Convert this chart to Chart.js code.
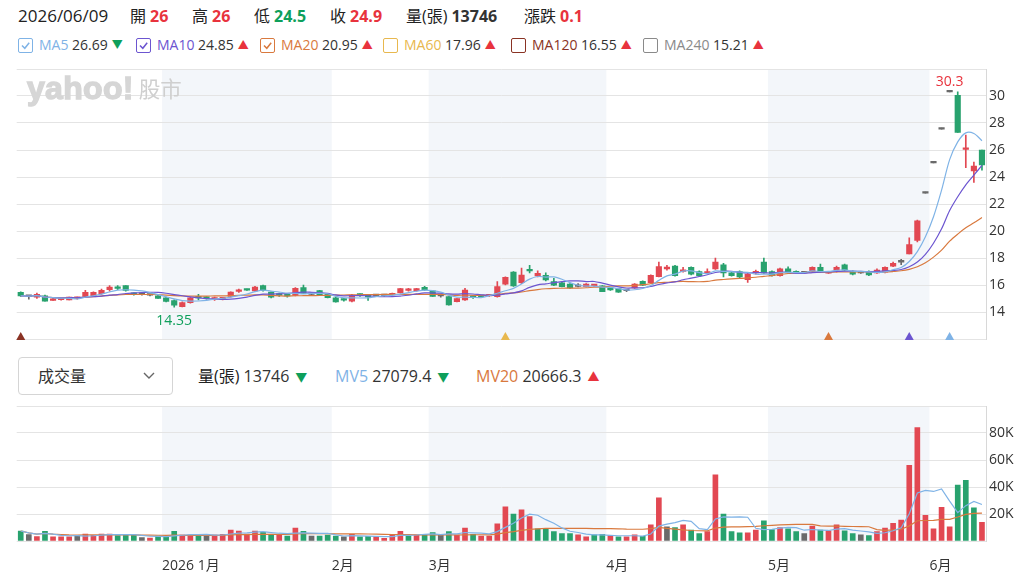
<!DOCTYPE html>
<html>
<head>
<meta charset="utf-8">
<script src="https://cdn.jsdelivr.net/npm/chart.js@4.4.1/dist/chart.umd.min.js"></script>
<style>
html,body{margin:0;padding:0;background:#fff}
body{width:1022px;height:579px;position:relative;overflow:hidden;font-family:"Open Sans","Noto Sans CJK TC",sans-serif;color:#333}
.a{position:absolute;white-space:nowrap}
.hdr{top:5px;height:22px;line-height:22px;font-size:16px;color:#222}
.hdr b{font-weight:700;margin-left:4px}
.up{color:#e8333d}.dn{color:#0e9f5b}.eq{color:#333}
.leg{top:36px;height:18px;line-height:18px;font-size:14px;display:flex;align-items:center;color:#333}
.cb{width:15px;height:15px;box-sizing:border-box;border:1.5px solid;border-radius:2px;margin-right:6px;display:flex;align-items:center;justify-content:center}
.arr{font-size:11px;margin-left:4px}
.vh{top:366px;height:20px;line-height:20px;font-size:16px;color:#222}
#sel{left:18px;top:357px;width:155px;height:38px;box-sizing:border-box;border:1px solid #d5d5d5;border-radius:4px}
#sel span{position:absolute;left:19px;top:8px;line-height:20px;font-size:16px;color:#333}
#sel svg{position:absolute;left:124px;top:14px}
#wm{left:27px;top:70px;pointer-events:none}
canvas{position:absolute;left:0}
</style>
</head>
<body>
<canvas id="pc" width="1022" height="285" style="top:61px"></canvas>
<canvas id="vc" width="1022" height="179" style="top:400px"></canvas>

<div id="hdr"></div>
<div id="leg"></div>

<div id="wm" class="a"><span style="font:bold 32px 'Liberation Sans';letter-spacing:0.3px;color:#d6d6d6;-webkit-text-stroke:1.4px #d6d6d6">yahoo!</span><span style="font:400 21.5px 'Noto Sans CJK TC';color:#cfcfcf;margin-left:5px;position:relative;top:-2px">股市</span></div>

<div id="sel" class="a"><span>成交量</span><svg width="12" height="8" viewBox="0 0 12 8"><polyline points="1,1 6,6 11,1" fill="none" stroke="#666" stroke-width="1.4"/></svg></div>
<div id="vhdr"></div>

<script>
// ---------- DATA ----------
const monthNames = ['12月','2026 1月','2月','3月','4月','5月','6月'];
const monthDays  = [18, 21, 12, 22, 20, 20, 7];

const opens = [
  15.45,15.15,15.1,15.2,14.85,14.92,14.9,15.0,15.15,15.2,15.35,15.65,15.8,15.95,15.35,15.3,15.25,15.2,
  15.05,14.85,14.4,14.7,15.1,15.05,14.95,14.97,15.15,15.52,15.65,15.56,15.95,15.48,15.3,15.22,15.23,15.8,15.3,15.58,15.3,
  15.05,14.9,14.8,15.28,15.15,15.2,15.2,15.27,15.43,15.6,15.58,15.83,
  15.56,15.2,15.14,14.77,14.9,15.12,15.15,15.19,15.14,16.07,16.96,16.17,17.1,16.67,16.72,16.25,16.17,16.07,15.9,15.88,15.95,15.93,
  15.78,15.73,15.58,15.78,16.27,16.17,16.62,17.2,17.4,17.0,17.3,17.0,16.88,17.2,17.5,16.9,17.0,16.4,16.9,17.7,
  17.0,16.7,17.2,17.0,16.9,17.0,17.3,16.88,17.1,17.5,17.0,16.9,17.0,16.9,16.95,17.4,17.7,18.3,19.3,22.8,
  25.05,27.55,30.3,30.05,26.05,24.45,26
];
const highs = [
  15.5,15.15,15.4,15.25,15.05,15.05,15.1,15.1,15.6,15.5,15.7,15.95,15.95,15.95,15.4,15.35,15.3,15.25,
  15.1,14.9,14.75,15.1,15.3,15.15,15.1,15.05,15.5,15.7,15.7,15.9,16.0,15.5,15.4,15.3,15.8,16.0,15.35,15.6,15.35,
  15.1,15.0,15.3,15.35,15.15,15.22,15.25,15.4,15.75,15.75,15.75,15.9,
  15.6,15.3,15.15,15.0,15.75,15.2,15.2,15.25,16.25,16.6,17.0,17.25,17.45,17.05,16.9,16.5,16.2,16.1,16.1,16.1,16.05,15.95,
  15.8,15.75,15.65,16.1,16.3,16.75,17.7,17.45,17.45,17.3,17.35,17.05,17.2,18.0,17.6,16.95,17.05,16.85,17.1,18.0,
  17.05,17.25,17.35,17.05,16.95,17.35,17.55,16.95,17.4,17.55,17.05,16.95,17.05,17.2,17.35,17.7,17.9,19.5,20.8,22.8,
  25.05,27.55,30.3,30.3,27.1,25.1,26
];
const lows = [
  15.15,14.95,15.0,14.8,14.85,14.88,14.9,14.95,15.1,15.2,15.3,15.55,15.65,15.55,15.25,15.25,15.2,15.0,
  14.75,14.35,14.38,14.65,14.9,14.95,14.85,14.9,15.1,15.45,15.6,15.5,15.55,15.05,15.15,15.1,15.2,15.35,15.25,15.25,15.05,
  14.72,14.8,14.75,15.15,14.85,15.15,15.15,15.25,15.4,15.55,15.55,15.6,
  15.15,15.1,14.5,14.75,14.85,15.0,15.1,15.15,15.1,16.0,15.9,16.1,16.9,16.6,16.3,15.95,15.85,15.75,15.85,15.85,15.9,15.5,
  15.6,15.45,15.5,15.75,15.95,16.15,16.6,17.1,16.65,16.95,16.75,16.65,16.85,17.15,16.6,16.65,16.55,16.2,16.8,16.85,
  16.65,16.65,16.85,16.85,16.85,16.95,16.95,16.85,16.95,17.05,16.75,16.85,16.7,16.85,16.9,17.35,17.5,18.3,19.2,22.8,
  25.05,27.55,30.3,27.3,24.7,23.6,24.5
];
const closes = [
  15.2,15.15,15.3,14.8,14.9,14.97,15.1,15.05,15.45,15.45,15.6,15.85,15.75,15.6,15.3,15.3,15.25,15.0,
  14.78,14.5,14.7,15.05,15.05,15.0,15.0,15.0,15.48,15.58,15.62,15.85,15.58,15.1,15.25,15.2,15.75,15.38,15.3,15.28,15.06,
  14.75,14.88,15.25,15.25,15.12,15.2,15.2,15.38,15.73,15.65,15.73,15.63,
  15.16,15.2,14.52,14.99,15.63,15.08,15.13,15.22,15.88,16.57,15.93,16.74,17.05,16.86,16.37,15.98,15.88,15.78,15.9,16.07,15.98,15.51,
  15.63,15.46,15.58,16.07,15.98,16.72,17.36,17.26,16.7,17.1,16.8,16.7,16.92,17.7,16.9,16.7,16.6,16.8,17.0,16.9,
  16.7,17.2,16.9,16.9,16.9,17.3,17.0,16.92,17.3,17.1,16.8,16.9,16.75,17.1,17.3,17.6,17.7,19.0,20.75,22.8,
  25.05,27.55,30.3,27.3,26.15,24.8,24.9
];
// volume in 張
const volumes = [
  7400,4700,3200,7200,3000,3000,3000,4000,5200,4200,5200,5200,4000,4700,4200,2500,2200,3700,
  3700,7200,4400,4400,4200,4400,4400,4900,8000,7400,5200,7400,6400,4900,4900,3700,9600,7200,3700,3700,4400,
  3700,3000,4900,3000,3500,3000,2000,4900,7200,3700,4400,4700,
  6200,4400,6900,4400,9600,4900,3700,3700,12800,25400,20000,23000,18000,9000,9000,7000,5500,5500,4500,3000,4500,5000,
  4000,3000,3000,4500,3500,12000,32000,10500,10000,12000,8000,5500,7000,49000,20000,7000,6000,6000,8000,15000,
  8500,10000,9000,7000,5500,11000,8000,7500,12000,7500,5500,4500,4000,7000,9500,13000,15500,56000,84000,19000,
  9000,25000,10500,41500,45000,24600,13746
];
// day change vs previous close: u = up, d = down, n = unchanged (one string per month)
const volDirByMonth = [
  "dnuduuunuuuudddnud",
  "dduudnuuuuuuddududndd",
  "dnudduuuudud",
  "dnduuduuuuduuddddduudd",
  "uduuduundudduuddduud",
  "duddnuduuddnduuuuuuu",
  "uuudddu"
];

const maLegend = [
  {name:'MA5',   value:'26.69', dir:'d', checked:true},
  {name:'MA10',  value:'24.85', dir:'u', checked:true},
  {name:'MA20',  value:'20.95', dir:'u', checked:true},
  {name:'MA60',  value:'17.96', dir:'u', checked:false},
  {name:'MA120', value:'16.55', dir:'u', checked:false},
  {name:'MA240', value:'15.21', dir:'u', checked:false}
];
const volLegend = [
  {name:'量(張)', value:'13746',   dir:'d'},
  {name:'MV5',   value:'27079.4', dir:'d'},
  {name:'MV20',  value:'20666.3', dir:'u'}
];
const signalDays  = [0, 60, 100, 110, 115];
const signalLines = ['MA120','MA60','MA20','MA10','MA5'];

// ---------- STYLE ----------
const RED = '#e24852', GREEN = '#28a26e', GRAY = '#6a6a6a';
const maColors = {MA5:'#7fb3e6', MA10:'#6c55d0', MA20:'#d9793e', MA60:'#e8b84e', MA120:'#8a3324', MA240:'#8a8a8a', MV5:'#7fb3e6', MV20:'#d9793e', '量(張)':'#222'};
const FONT = '"Open Sans","Noto Sans CJK TC",sans-serif';
Chart.defaults.font.family = FONT;

const N = closes.length;
const volDir = volDirByMonth.join('').split('');
const monthStarts = []; {let s=0; monthDays.forEach(d=>{monthStarts.push(s); s+=d;});}
const labels = [];
monthDays.forEach((d,m)=>{for(let k=0;k<d;k++) labels.push(monthNames[m]+'-'+(k+1));});

function movingAvg(arr, n){
  return arr.map((_,i)=>{const s=Math.max(0,i-n+1);let t=0;for(let j=s;j<=i;j++)t+=arr[j];return t/(i-s+1);});
}
const candleColor = closes.map((c,i)=> c>opens[i]?RED:(c<opens[i]?GREEN:GRAY));
const volColor = volDir.map(d=> d==='u'?RED:(d==='d'?GREEN:GRAY));

// ---------- HTML TEXT ----------
const fmt = v => String(Number(v.toFixed(2)));
(function(){
  const L=N-1, prev=closes[L-1];
  const cls = v => v>prev?'up':(v<prev?'dn':'eq');
  const h = document.getElementById('hdr');
  h.innerHTML =
    `<span class="a hdr" style="left:18px;font-size:17px">2026/06/09</span>`+
    `<span class="a hdr" style="left:130px">開<b class="${cls(opens[L])}">${fmt(opens[L])}</b></span>`+
    `<span class="a hdr" style="left:192px">高<b class="${cls(highs[L])}">${fmt(highs[L])}</b></span>`+
    `<span class="a hdr" style="left:254px">低<b class="${cls(lows[L])}">${fmt(lows[L])}</b></span>`+
    `<span class="a hdr" style="left:330px">收<b class="${cls(closes[L])}">${fmt(closes[L])}</b></span>`+
    `<span class="a hdr" style="left:406px">量(張)<b style="color:#333">${volumes[L]}</b></span>`+
    `<span class="a hdr" style="left:524px">漲跌<b class="${cls(closes[L])}">${fmt(closes[L]-prev)}</b></span>`;
  const legX = [18,136,260,383,511,643];
  document.getElementById('leg').innerHTML = maLegend.map((m,i)=>{
    const col = maColors[m.name];
    const chk = m.checked ? `<svg width="11" height="11" viewBox="0 0 11 11"><polyline points="2,5.5 4.8,8.3 9.2,2.8" fill="none" stroke="${col}" stroke-width="1.5"/></svg>` : '';
    return `<div class="a leg" style="left:${legX[i]}px"><span class="cb" style="border-color:${col}">${chk}</span><span style="color:${col}">${m.name}</span>&nbsp;${m.value}<span class="arr ${m.dir==='u'?'up':'dn'}">${m.dir==='u'?'▲':'▼'}</span></div>`;
  }).join('');
  const vx = [198,335,476];
  document.getElementById('vhdr').innerHTML = volLegend.map((m,i)=>
    `<div class="a vh" style="left:${vx[i]}px"><span style="color:${maColors[m.name]}">${m.name}</span> <span style="color:#333">${m.value}</span><span class="arr ${m.dir==='u'?'up':'dn'}" style="font-size:12px;margin-left:6px">${m.dir==='u'?'▲':'▼'}</span></div>`
  ).join('');
})();

// ---------- PLUGINS ----------
const shadePlugin = {
  id:'shade',
  beforeDraw(chart){
    const {ctx, chartArea:a, scales:{x}} = chart;
    const half = (x.getPixelForValue(1)-x.getPixelForValue(0))/2;
    ctx.save(); ctx.fillStyle = '#f3f6fa';
    monthStarts.forEach((s,m)=>{
      if(m%2!==1) return;
      const e = m+1<monthStarts.length ? monthStarts[m+1] : null;
      const x0 = x.getPixelForValue(s)-half;
      const x1 = e!==null ? x.getPixelForValue(e)-half : a.right;
      ctx.fillRect(x0, a.top, x1-x0, a.bottom-a.top);
    });
    ctx.restore();
  }
};
const pricePlugin = {
  id:'priceMarks',
  afterDatasetsDraw(chart){
    const {ctx, chartArea:a, scales:{x,y}} = chart;
    ctx.save();
    ctx.font = '14px '+FONT; ctx.textAlign='center';
    let iMax=0, iMin=0;
    highs.forEach((v,i)=>{ if(v>highs[iMax]) iMax=i; });
    lows.forEach((v,i)=>{ if(v<lows[iMin]) iMin=i; });
    ctx.fillStyle = '#e8333d'; ctx.textBaseline='bottom';
    ctx.fillText(String(highs[iMax]), x.getPixelForValue(iMax), y.getPixelForValue(highs[iMax])-3);
    ctx.fillStyle = '#0e9f5b'; ctx.textBaseline='top';
    ctx.fillText(String(lows[iMin]), x.getPixelForValue(iMin), y.getPixelForValue(lows[iMin])+7);
    signalDays.forEach((d,k)=>{
      const cx = x.getPixelForValue(d), b = a.bottom+1;
      ctx.fillStyle = maColors[signalLines[k]];
      ctx.beginPath(); ctx.moveTo(cx-4.5,b); ctx.lineTo(cx+4.5,b); ctx.lineTo(cx,b-8); ctx.closePath(); ctx.fill();
    });
    ctx.restore();
  }
};
const monthLabelPlugin = {
  id:'monthLabels',
  afterDraw(chart){
    const {ctx, chartArea:a, scales:{x}} = chart;
    const half = (x.getPixelForValue(1)-x.getPixelForValue(0))/2;
    ctx.save(); ctx.font='14px '+FONT; ctx.fillStyle='#333'; ctx.textAlign='left'; ctx.textBaseline='middle';
    monthStarts.forEach((s,m)=>{ if(m===0) return; ctx.fillText(monthNames[m], x.getPixelForValue(s)-half, a.bottom+25); });
    ctx.restore();
  }
};

const xScale = {type:'category', offset:true, display:false, grid:{display:false}};
const gridCfg = {color:'#e4e4e4', drawTicks:false, lineWidth:1};
const tickFont = {size:14, family:FONT};
const fitY = s => { s.width = 36; s.paddingTop = 0; s.paddingBottom = 0; };

// ---------- PRICE CHART ----------
new Chart(document.getElementById('pc'), {
  data:{
    labels,
    datasets:[
      {type:'line', label:'MA5',  data:movingAvg(closes,5),  borderColor:maColors.MA5,  borderWidth:1.2, pointRadius:0, tension:0.3, order:0},
      {type:'line', label:'MA10', data:movingAvg(closes,10), borderColor:maColors.MA10, borderWidth:1.2, pointRadius:0, tension:0.3, order:0},
      {type:'line', label:'MA20', data:movingAvg(closes,20), borderColor:maColors.MA20, borderWidth:1.2, pointRadius:0, tension:0.3, order:0},
      {type:'bar', label:'wick', data:lows.map((l,i)=>[l,highs[i]]), backgroundColor:candleColor, barThickness:1, grouped:false, minBarLength:1, order:2},
      {type:'bar', label:'body', data:opens.map((o,i)=>[Math.min(o,closes[i]),Math.max(o,closes[i])]), backgroundColor:candleColor, barThickness:5.5, grouped:false, minBarLength:1.6, order:1}
    ]
  },
  options:{
    responsive:false, animation:false, devicePixelRatio:1,
    layout:{padding:{left:16.7, top:8, right:0, bottom:7}},
    plugins:{legend:{display:false}, tooltip:{enabled:false}},
    scales:{
      x:xScale,
      y:{position:'right', min:12, max:32, afterFit:fitY,
         ticks:{stepSize:2, padding:3, color:'#333', font:tickFont, callback:v=>(v===12||v===32)?'':v},
         grid:gridCfg, border:{display:true, color:'#d8d8d8'}}
    }
  },
  plugins:[shadePlugin, pricePlugin]
});

// ---------- VOLUME CHART ----------
new Chart(document.getElementById('vc'), {
  data:{
    labels,
    datasets:[
      {type:'line', label:'MV5',  data:movingAvg(volumes,5),  borderColor:maColors.MV5,  borderWidth:1.2, pointRadius:0, tension:0, order:0},
      {type:'line', label:'MV20', data:movingAvg(volumes,20), borderColor:maColors.MV20, borderWidth:1.2, pointRadius:0, tension:0, order:0},
      {type:'bar', label:'vol', data:volumes, backgroundColor:volColor, barThickness:5, order:1}
    ]
  },
  options:{
    responsive:false, animation:false, devicePixelRatio:1,
    layout:{padding:{left:16.7, top:6, right:0, bottom:38}},
    plugins:{legend:{display:false}, tooltip:{enabled:false}},
    scales:{
      x:xScale,
      y:{position:'right', min:0, max:100000, afterFit:fitY,
         ticks:{stepSize:20000, padding:3, color:'#333', font:tickFont, callback:v=>(v===0||v===100000)?'':(v/1000)+'K'},
         grid:gridCfg, border:{display:true, color:'#d8d8d8'}}
    }
  },
  plugins:[shadePlugin, monthLabelPlugin]
});
</script>
</body>
</html>
